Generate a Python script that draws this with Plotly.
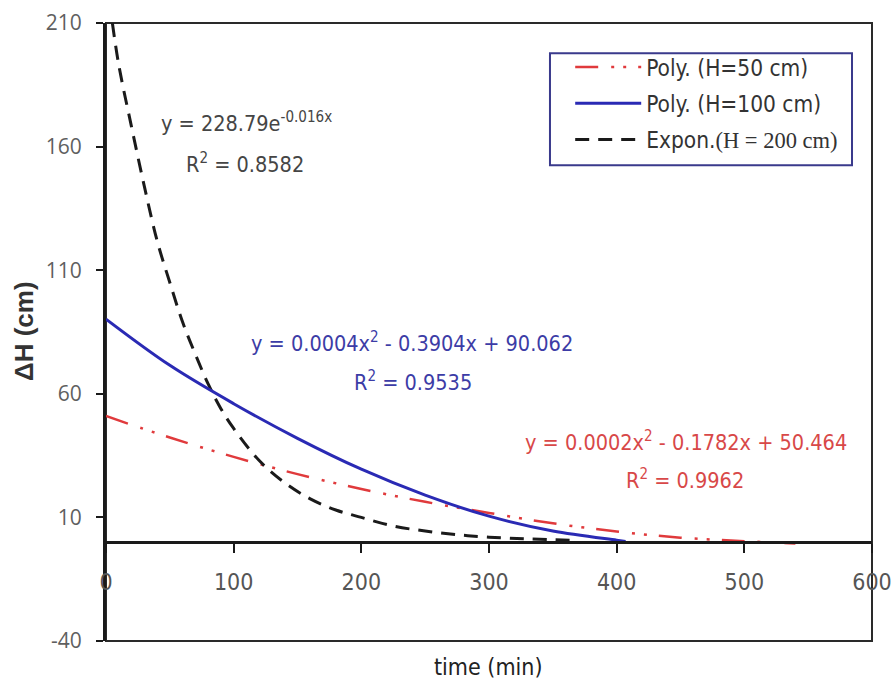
import plotly.graph_objects as go

# Poly. (H=50 cm) trendline, sampled along time
t50 = [0, 50, 100, 150, 200, 250, 300, 350, 400, 450, 500, 540]
dh50 = [51.0, 42.3, 34.5, 27.5, 21.5, 16.3, 11.8, 7.6, 4.3, 1.8, 0.4, -0.6]

# Poly. (H=100 cm) trendline
t100 = [0, 50, 100, 150, 200, 250, 300, 350, 400, 407]
dh100 = [90.2, 71.5, 56.0, 42.0, 29.5, 19.0, 10.5, 4.5, 0.8, 0.3]

# Expon. (H=200 cm) trendline
t200 = [5, 10, 20, 30, 40, 50, 60, 70, 80, 90, 100, 120, 140, 160, 180, 200,
        225, 250, 275, 300, 330, 370]
dh200 = [210, 193, 168, 144, 122, 105, 89, 76, 64, 54, 46, 33, 24, 17.5, 13,
         10, 6.5, 4.5, 3.0, 2.0, 1.3, 0.7]

x_ticks = [0, 100, 200, 300, 400, 500, 600]
y_ticks = [-40, 10, 60, 110, 160, 210]
y_labels = ["-40", "10", "60", "110", "160", "210"]

NARROW = "Liberation Sans Narrow, DejaVu Sans Condensed, Roboto Condensed, Lato, sans-serif"
PLAIN = "Open Sans, Lato, sans-serif"

RED = "#e03a3c"
BLUE = "#2a2ab4"
BLACK = "#1a1a1a"

fig = go.Figure()

fig.add_trace(go.Scatter(
    x=t50, y=dh50, mode="lines", name="Poly. (H=50 cm)", legendgroup="a",
    legendrank=1,
    line=dict(color=RED, width=2.5, shape="spline", smoothing=1.0,
              dash="23px,13px,3px,9px,3px,12px"),
))
fig.add_trace(go.Scatter(
    x=t200, y=dh200, mode="lines",
    name="Expon.<span style=\"font-family:'Liberation Serif', serif\">(H = 200 cm)</span>",
    legendgroup="c", legendrank=3,
    line=dict(color=BLACK, width=3, shape="spline", smoothing=1.0, dash="14px,9px"),
))
fig.add_trace(go.Scatter(
    x=t100, y=dh100, mode="lines", name="Poly. (H=100 cm)", legendgroup="b",
    legendrank=2,
    line=dict(color=BLUE, width=3, shape="spline", smoothing=1.0),
))

# trendline equations
eqs = [
    (110, 170, "y = 228.79e<sup>-0.016x</sup>", "#454545"),
    (109, 153.5, "R<sup>2</sup> = 0.8582", "#454545"),
    (240, 81, "y = 0.0004x<sup>2</sup> - 0.3904x + 90.062", "#3c3ca6"),
    (240.5, 65.3, "R<sup>2</sup> = 0.9535", "#3c3ca6"),
    (454, 41, "y = 0.0002x<sup>2</sup> - 0.1782x + 50.464", "#d84848"),
    (453.5, 25.6, "R<sup>2</sup> = 0.9962", "#d84848"),
]
for ex, ey, txt, col in eqs:
    fig.add_annotation(x=ex, y=ey, text=txt, showarrow=False, xanchor="center",
                       yanchor="middle", font=dict(family=NARROW, size=21.5, color=col))

# axis titles
fig.add_annotation(xref="paper", yref="paper", x=0.499, y=-0.042, text="time (min)",
                   showarrow=False, xanchor="center", yanchor="middle",
                   font=dict(family=NARROW, size=23, color="#222222"))
fig.add_annotation(xref="paper", yref="paper", x=-0.108, y=0.502, text="<b>ΔH (cm)</b>",
                   showarrow=False, xanchor="center", yanchor="middle", textangle=-90,
                   font=dict(family="Liberation Sans, Arial, sans-serif", size=26,
                             color="#333333"))

# plot frame and legend frame
fig.add_shape(type="rect", xref="paper", yref="paper", x0=0, y0=0, x1=1, y1=1,
              line=dict(color="#2a2a2a", width=2), layer="below")
fig.add_shape(type="rect", xref="paper", yref="paper", x0=0.5796, y0=0.770,
              x1=0.9739, y1=0.951, line=dict(color="#3a3a8c", width=2),
              fillcolor="white", layer="below")

fig.update_layout(
    width=894, height=687,
    margin=dict(l=106, r=22, t=23, b=46, autoexpand=False),
    paper_bgcolor="white", plot_bgcolor="white",
    xaxis=dict(range=[0, 600], tickvals=x_ticks, anchor="free", position=0.16,
               automargin=False,
               showline=True, linewidth=3, linecolor=BLACK, ticks="outside",
               ticklen=9, tickwidth=2, tickcolor=BLACK, showgrid=False,
               zeroline=False, ticklabelstandoff=9, ticklabeloverflow="allow",
               tickfont=dict(family=NARROW, size=23, color="#555555")),
    yaxis=dict(range=[-40, 210], tickvals=y_ticks, ticktext=y_labels,
               automargin=False,
               showline=True, linewidth=3,
               linecolor=BLACK, ticks="outside", ticklen=7, tickwidth=2,
               tickcolor=BLACK, showgrid=False, zeroline=False,
               ticklabelstandoff=10,
               tickfont=dict(family=PLAIN, size=21, color="#5f5f5f")),
    legend=dict(x=0.606, y=0.963, xanchor="left", yanchor="top",
                borderwidth=0, bgcolor="rgba(0,0,0,0)",
                tracegroupgap=4, traceorder="grouped", itemwidth=66,
                font=dict(family=NARROW, size=22.5, color="#333333")),
    showlegend=True,
)

fig.write_html("out.html")
